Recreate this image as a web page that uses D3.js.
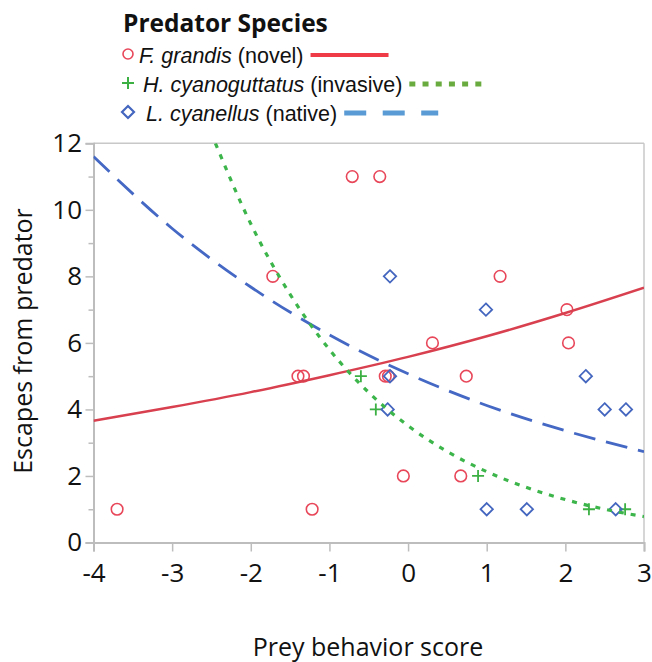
<!DOCTYPE html>
<html><head><meta charset="utf-8">
<script src="https://cdn.jsdelivr.net/npm/d3@7"></script>
<style>body{margin:0;background:#fff}svg{display:block}</style>
</head><body>
<svg id="chart" width="652" height="662"></svg>
<script>
// ---- data ----
const xTicks = [-4,-3,-2,-1,0,1,2,3];
const yTicks = [0,2,4,6,8,10,12];
const yMinorTicks = [1,3,5,7,9,11];

const grandisX = [-3.70,-1.72,-1.40,-1.33,-1.22,-0.71,-0.36,-0.29,-0.25,-0.06,0.31,0.74,0.67,1.17,2.02,2.04];
const grandisY = [1,8,5,5,1,11,11,5,5,2,6,5,2,8,7,6];
const cyanoX = [-0.60,-0.41,0.89,2.30,2.76];
const cyanoY = [5,4,2,1,1];
const cyanellusX = [-0.23,-0.23,-0.26,0.99,1.00,1.51,2.26,2.50,2.77,2.64];
const cyanellusY = [8,5,4,7,1,1,5,4,4,1];

const grandisFitX = [-4,-3,-2,-1,0,1,2,3];
const grandisFitY = [3.66,4.07,4.52,5.03,5.58,6.20,6.90,7.66];
const cyanellusFitX = [-4,-3,-2,-1,0,1,2,3];
const cyanellusFitY = [11.6,9.44,7.68,6.24,5.07,4.12,3.36,2.73];
const cyanoFitX = [-2.45,-2,-1.5,-1,-0.5,0,0.5,1,1.5,2,2.5,3];
const cyanoFitY = [12,9.58,7.46,5.80,4.51,3.51,2.73,2.13,1.66,1.29,1.00,0.78];

const legendTitle = "Predator Species";
const legendItems = [
  {sp:"F. grandis", st:" (novel)"},
  {sp:"H. cyanoguttatus", st:" (invasive)"},
  {sp:"L. cyanellus", st:" (native)"}
];
const xTitle = "Prey behavior score";
const yTitle = "Escapes from predator";

// ---- layout ----
const svg = d3.select("#chart");
const L = 93.5, R = 644, T = 143.3, B = 542.5;
const x = d3.scaleLinear().domain([-4,3]).range([L,R]);
const y = d3.scaleLinear().domain([0,12]).range([B,T]);
const axisFont = "'Open Sans', sans-serif";
const gridCol = "#bdbdbd";

// frame top/right
svg.append("line").attr("x1",L).attr("x2",R).attr("y1",T).attr("y2",T).attr("stroke","#c8c8c8").attr("stroke-width",1.5);
svg.append("line").attr("x1",R).attr("x2",R).attr("y1",T).attr("y2",B).attr("stroke","#c8c8c8").attr("stroke-width",1.5);

// x axis
const gx = svg.append("g").attr("transform",`translate(0,${B})`)
  .call(d3.axisBottom(x).tickValues(xTicks).tickSize(9).tickPadding(12).tickFormat(d=>d<0?"-"+Math.abs(d):d));
// y axis
const gy = svg.append("g").attr("transform",`translate(${L},0)`)
  .call(d3.axisLeft(y).tickValues(yTicks).tickSize(8).tickPadding(3.5));
const gym = svg.append("g").attr("transform",`translate(${L},0)`)
  .call(d3.axisLeft(y).tickValues(yMinorTicks).tickSize(5).tickFormat(""));
gym.select(".domain").remove();
[gx,gy,gym].forEach(g=>{
  g.select(".domain").attr("stroke",gridCol).attr("stroke-width",2);
  g.selectAll(".tick line").attr("stroke",gridCol).attr("stroke-width",1.5);
  g.selectAll("text").attr("font-family",axisFont).attr("font-size",26).attr("fill","#111");
});

// axis titles
svg.append("text").attr("x",368).attr("y",656).attr("text-anchor","middle")
  .attr("font-family",axisFont).attr("font-size",25).attr("fill","#111").text(xTitle);
svg.append("text").attr("transform","translate(32,341) rotate(-90)").attr("text-anchor","middle")
  .attr("font-family",axisFont).attr("font-size",25).attr("fill","#111").text(yTitle);

// clip
svg.append("clipPath").attr("id","plotclip").append("rect").attr("x",L).attr("y",T).attr("width",R-L).attr("height",B-T);
const plot = svg.append("g").attr("clip-path","url(#plotclip)");

const line = d3.line().x(d=>x(d[0])).y(d=>y(d[1])).curve(d3.curveMonotoneX);
const zip = (a,b)=>a.map((v,i)=>[v,b[i]]);

const cRed = "#e8475a", cGreen = "#3cb043", cBlue = "#4466bf";

// points
plot.selectAll("circle.fg").data(zip(grandisX,grandisY)).join("circle")
  .attr("cx",d=>x(d[0])).attr("cy",d=>y(d[1])).attr("r",5.8)
  .attr("fill","none").attr("stroke",cRed).attr("stroke-width",1.6);
plot.selectAll("path.hc").data(zip(cyanoX,cyanoY)).join("path")
  .attr("d",d=>`M${x(d[0])-6},${y(d[1])}h12M${x(d[0])},${y(d[1])-6}v12`)
  .attr("stroke",cGreen).attr("stroke-width",1.8).attr("fill","none");
plot.selectAll("path.lc").data(zip(cyanellusX,cyanellusY)).join("path")
  .attr("d",d=>{const cx=x(d[0]),cy=y(d[1]),s=6.2;return `M${cx},${cy-s}L${cx+s},${cy}L${cx},${cy+s}L${cx-s},${cy}Z`;})
  .attr("stroke",cBlue).attr("stroke-width",1.8).attr("fill","none");

// fit curves
plot.append("path").datum(zip(grandisFitX,grandisFitY)).attr("d",line)
  .attr("fill","none").attr("stroke","#d9404f").attr("stroke-width",2.5);
plot.append("path").datum(zip(cyanellusFitX,cyanellusFitY)).attr("d",line)
  .attr("fill","none").attr("stroke","#4468c4").attr("stroke-width",2.8).attr("stroke-dasharray","22,11");
plot.append("path").datum(zip(cyanoFitX,cyanoFitY)).attr("d",line)
  .attr("fill","none").attr("stroke","#3cb54a").attr("stroke-width",3.2).attr("stroke-dasharray","5,7");

// legend
svg.append("text").attr("x",123).attr("y",32).attr("font-family",axisFont).attr("font-weight","bold")
  .attr("font-size",24.5).attr("fill","#111").text(legendTitle);
const rowY = [54,83,112];
const textX = [139,143,146];
const legStyles = [
  {col:"#ee3b47", dash:null, w:4},
  {col:"#6aab3f", dash:"6,7.2", w:5},
  {col:"#5b9bd5", dash:"22,16.5", w:5}
];
legendItems.forEach((it,i)=>{
  const g = svg.append("g");
  const mx = 128, my = rowY[i];
  if(i===0) g.append("circle").attr("cx",mx).attr("cy",my).attr("r",5).attr("fill","none").attr("stroke",cRed).attr("stroke-width",1.6);
  if(i===1) g.append("path").attr("d",`M${mx-6},${my}h12M${mx},${my-6}v12`).attr("stroke",cGreen).attr("stroke-width",2);
  if(i===2) g.append("path").attr("d",`M${mx},${my-6}L${mx+6},${my}L${mx},${my+6}L${mx-6},${my}Z`).attr("fill","none").attr("stroke",cBlue).attr("stroke-width",2.2);
  const t = g.append("text").attr("x",textX[i]).attr("y",my+8.5).attr("font-family","'Liberation Sans', Arial, sans-serif")
    .attr("font-size",21.5).attr("fill","#111");
  t.append("tspan").attr("font-style","italic").text(it.sp);
  t.append("tspan").text(it.st);
  const end = textX[i] + t.node().getComputedTextLength();
  const st = legStyles[i];
  const ll = g.append("line").attr("x1",end+7).attr("x2",end+7+(i===0?78:(i===1?72:94))).attr("y1",my+1).attr("y2",my+1)
    .attr("stroke",st.col).attr("stroke-width",st.w);
  if(st.dash) ll.attr("stroke-dasharray",st.dash);
});
</script>
</body></html>
